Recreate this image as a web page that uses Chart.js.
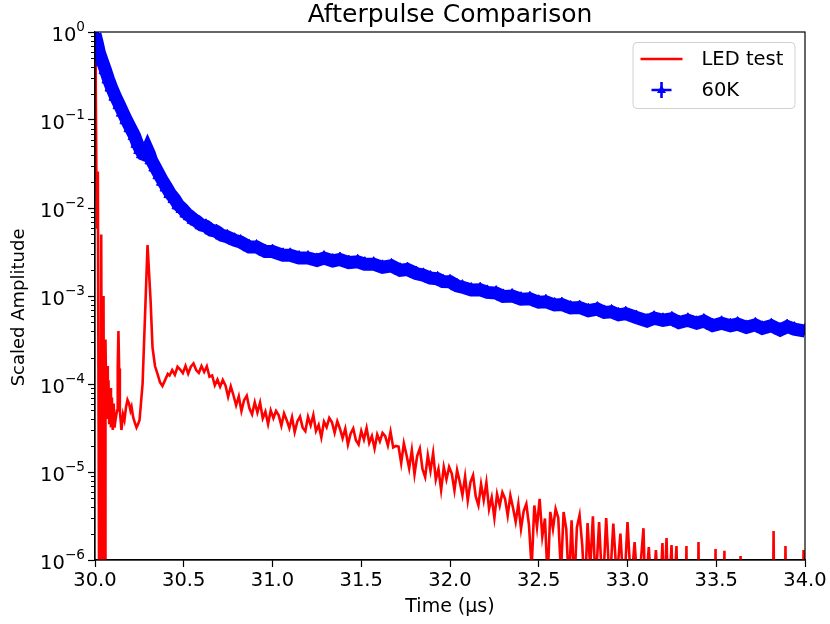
<!DOCTYPE html>
<html>
<head>
<meta charset="utf-8">
<script src="https://cdn.jsdelivr.net/npm/chart.js@4.4.1/dist/chart.umd.min.js"></script>
<style>
  html, body { margin: 0; background: #fff; }
  canvas { display: block; }
</style>
</head>
<body>
<canvas id="chart" width="830" height="624"></canvas>
<script>
'use strict';

// ===== data (time in µs, scaled amplitude) =====
const ledTrace = [
  [30.000, 0.95], [30.004, 0.25], [30.008, 0.02], [30.012, 0.006], [30.016, 0.026],
  [30.024, 1e-7], [30.028, 2e-4], [30.031, 1e-7], [30.035, 0.005], [30.041, 1e-7],
  [30.045, 4e-4], [30.048, 1.0e-3], [30.053, 1e-7], [30.056, 1e-4], [30.058, 1e-7],
  [30.059, 3.2e-4], [30.064, 5e-5], [30.068, 1.6e-4], [30.072, 4e-5], [30.076, 1.1e-4],
  [30.080, 3.5e-5], [30.085, 9e-5], [30.090, 3.2e-5], [30.095, 7e-5], [30.100, 3e-5],
  [30.105, 6e-5], [30.110, 3.2e-5], [30.116, 4e-5], [30.124, 5e-5], [30.128, 1.5e-4],
  [30.132, 4.0e-4], [30.136, 1.5e-4], [30.140, 5e-5], [30.149, 3.0e-5], [30.158, 4.5e-5],
  [30.166, 3.9e-5], [30.175, 5.5e-5], [30.183, 6.6e-5], [30.192, 6.0e-5], [30.200, 5.0e-5],
  [30.206, 5.5e-5], [30.215, 4.2e-5], [30.225, 3.6e-5], [30.234, 3.2e-5], [30.243, 3.5e-5],
  [30.251, 3.9e-5], [30.268, 1.0e-4], [30.285, 9e-4], [30.296, 3.8e-3], [30.313, 9e-4],
  [30.324, 2.6e-4], [30.338, 1.6e-4], [30.352, 1.3e-4], [30.366, 1.05e-4], [30.380, 9.5e-5],
  [30.394, 1.1e-4], [30.410, 1.3e-4], [30.420, 1.25e-4],
  [30.435, 1.44e-4], [30.450, 1.27e-4], [30.465, 1.57e-4], [30.480, 1.46e-4], [30.495, 1.33e-4],
  [30.510, 1.61e-4], [30.525, 1.31e-4], [30.540, 1.57e-4], [30.555, 1.71e-4], [30.570, 1.44e-4],
  [30.585, 1.34e-4], [30.600, 1.60e-4], [30.615, 1.37e-4], [30.630, 1.59e-4], [30.645, 1.21e-4],
  [30.660, 1.25e-4], [30.675, 9.66e-5], [30.690, 1.12e-4], [30.705, 9.33e-5], [30.720, 1.11e-4],
  [30.735, 9.66e-5], [30.750, 7.16e-5], [30.765, 9.42e-5], [30.780, 7.45e-5], [30.795, 5.73e-5],
  [30.810, 7.24e-5], [30.825, 4.94e-5], [30.840, 6.55e-5], [30.855, 7.35e-5], [30.870, 5.30e-5],
  [30.885, 4.53e-5], [30.900, 6.19e-5], [30.915, 4.74e-5], [30.930, 6.14e-5], [30.945, 4.08e-5],
  [30.960, 4.85e-5], [30.975, 3.51e-5], [30.990, 5.01e-5], [31.005, 4.10e-5], [31.020, 4.94e-5],
  [31.035, 4.40e-5], [31.050, 3.36e-5], [31.065, 4.63e-5], [31.080, 3.88e-5], [31.095, 3.16e-5],
  [31.110, 4.19e-5], [31.125, 2.84e-5], [31.140, 3.75e-5], [31.155, 4.26e-5], [31.170, 3.19e-5],
  [31.185, 2.91e-5], [31.200, 4.24e-5], [31.215, 3.40e-5], [31.230, 4.45e-5], [31.245, 2.92e-5],
  [31.260, 3.42e-5], [31.275, 2.48e-5], [31.290, 3.73e-5], [31.305, 3.23e-5], [31.320, 4.11e-5],
  [31.335, 3.68e-5], [31.350, 2.79e-5], [31.365, 3.77e-5], [31.380, 3.10e-5], [31.395, 2.42e-5],
  [31.410, 3.10e-5], [31.425, 2.05e-5], [31.440, 2.72e-5], [31.455, 3.12e-5], [31.470, 2.30e-5],
  [31.485, 2.05e-5], [31.500, 2.92e-5], [31.515, 2.34e-5], [31.530, 3.16e-5], [31.545, 2.14e-5],
  [31.560, 2.56e-5], [31.575, 1.85e-5], [31.590, 2.67e-5], [31.605, 2.23e-5], [31.620, 2.78e-5],
  [31.635, 2.56e-5], [31.650, 2.0e-5], [31.665, 2.86e-5], [31.680, 1.90e-5], [31.695, 1.98e-5],
  [31.710, 1.95e-5], [31.725, 1.26e-5], [31.740, 2.12e-5], [31.755, 1.56e-5], [31.770, 1.10e-5],
  [31.785, 1.77e-5], [31.800, 9.42e-6], [31.815, 1.52e-5], [31.830, 1.85e-5], [31.845, 1.08e-5],
  [31.860, 8.75e-6], [31.875, 1.55e-5], [31.890, 1.03e-5], [31.905, 1.64e-5], [31.920, 8.20e-6],
  [31.935, 1.08e-5], [31.950, 6.24e-6], [31.965, 1.14e-5], [31.980, 8.24e-6], [31.995, 1.14e-5],
  [32.010, 9.62e-6], [32.025, 6.19e-6], [32.040, 1.05e-5], [32.055, 7.76e-6], [32.070, 5.48e-6],
  [32.085, 8.87e-6], [32.100, 4.75e-6], [32.115, 7.64e-6], [32.130, 9.18e-6], [32.145, 5.27e-6],
  [32.160, 4.19e-6], [32.175, 7.26e-6], [32.190, 4.80e-6], [32.205, 7.59e-6], [32.220, 3.80e-6],
  [32.235, 5.13e-6], [32.250, 3.01e-6], [32.265, 5.61e-6], [32.280, 4.15e-6], [32.295, 5.86e-6],
  [32.310, 4.98e-6], [32.325, 3.21e-6], [32.340, 5.41e-6], [32.355, 3.93e-6], [32.370, 2.72e-6],
  [32.385, 4.32e-6], [32.400, 2.26e-6], [32.415, 3.60e-6], [32.430, 4.33e-6], [32.445, 2.49e-6],
  [32.460, 0.8e-6], [32.475, 4.16e-6], [32.490, 2.36e-6], [32.505, 4.95e-6], [32.520, 1.85e-6],
  [32.535, 2.96e-6], [32.550, 0.6e-6], [32.565, 3.52e-6], [32.580, 2.26e-6], [32.595, 3.81e-6],
  [32.610, 3.01e-6], [32.625, 0.7e-6], [32.640, 3.51e-6], [32.655, 2.25e-6], [32.670, 0.5e-6],
  [32.685, 2.82e-6], [32.700, 0.5e-6], [32.715, 2.34e-6], [32.730, 3.24e-6], [32.745, 1.48e-6],
  [32.760, 0.4e-6], [32.775, 2.63e-6], [32.790, 0.8e-6], [32.805, 3.13e-6], [32.820, 0.5e-6],
  [32.84, 2.7e-6], [32.86, 0.4e-6], [32.88, 3.0e-6], [32.90, 0.5e-6], [32.92, 2.6e-6],
  [32.94, 0.6e-6], [32.96, 2.0e-6], [32.98, 0.4e-6], [33.00, 2.7e-6], [33.02, 0.5e-6],
  [33.04, 1.6e-6], [33.06, 0.4e-6], [33.09, 2.3e-6], [33.10, 0.4e-6], [33.12, 1.4e-6],
  [33.14, 0.3e-6], [33.16, 1.3e-6], [33.18, 0.3e-6], [33.197, 1.56e-6], [33.205, 0.3e-6],
  [33.220, 1.78e-6], [33.230, 0.3e-6], [33.248, 1.48e-6], [33.258, 0.3e-6], [33.276, 1.44e-6],
  [33.285, 0.2e-6], [33.328, 0.2e-6], [33.332, 1.44e-6], [33.336, 0.2e-6], [33.396, 0.2e-6],
  [33.400, 1.6e-6], [33.404, 0.2e-6], [33.492, 0.2e-6], [33.496, 1.33e-6], [33.500, 0.2e-6],
  [33.542, 0.2e-6], [33.546, 1.27e-6], [33.550, 0.2e-6], [33.633, 0.2e-6], [33.637, 1.11e-6],
  [33.641, 0.2e-6], [33.819, 0.2e-6], [33.823, 2.14e-6], [33.827, 0.2e-6], [33.886, 0.2e-6],
  [33.890, 1.44e-6], [33.894, 0.2e-6], [33.988, 0.2e-6], [33.992, 1.3e-6], [34.000, 0.2e-6],
];

const coldTrace = [
  [30.000, 0.95], [30.012, 0.76], [30.025, 0.58], [30.042, 0.46], [30.059, 0.37],
  [30.076, 0.29], [30.093, 0.235], [30.115, 0.185], [30.138, 0.148], [30.157, 0.122],
  [30.177, 0.100], [30.200, 0.081], [30.223, 0.066], [30.239, 0.054], [30.255, 0.046],
  [30.270, 0.041], [30.283, 0.040], [30.296, 0.046], [30.307, 0.041], [30.318, 0.035],
  [30.340, 0.029], [30.363, 0.0237], [30.383, 0.0200], [30.403, 0.0172], [30.425, 0.0145],
  [30.448, 0.0127], [30.470, 0.0108], [30.493, 0.0098], [30.515, 0.0087], [30.535, 0.0081],
  [30.555, 0.0074], [30.572, 0.0071], [30.600, 0.0064], [30.625, 0.0062], [30.655, 0.0056],
  [30.685, 0.0054], [30.715, 0.0049], [30.745, 0.0047], [30.786, 0.0043], [30.820, 0.0041],
  [30.870, 0.0036], [30.910, 0.0036], [30.960, 0.0032], [31.000, 0.0032], [31.060, 0.0029],
  [31.100, 0.0029], [31.150, 0.0027], [31.200, 0.0027], [31.250, 0.00254], [31.290, 0.0027],
  [31.340, 0.0025], [31.380, 0.0026], [31.430, 0.0024], [31.480, 0.00245], [31.520, 0.0023],
  [31.570, 0.0023], [31.620, 0.00212], [31.670, 0.0022], [31.720, 0.00196], [31.760, 0.0020],
  [31.810, 0.0018], [31.850, 0.00172], [31.890, 0.0016], [31.930, 0.00157], [31.960, 0.00146],
  [32.000, 0.00145], [32.040, 0.0013], [32.070, 0.00126], [32.120, 0.00117], [32.170, 0.00118],
  [32.210, 0.0011], [32.260, 0.00108], [32.300, 0.00099], [32.350, 0.0010], [32.400, 0.00092],
  [32.450, 0.00093], [32.500, 0.00085], [32.540, 0.00086], [32.590, 0.00079], [32.630, 0.0008],
  [32.680, 0.00073], [32.730, 0.00074], [32.780, 0.00068], [32.830, 0.00071], [32.870, 0.00065],
  [32.910, 0.00066], [32.950, 0.00061], [32.990, 0.00063], [33.050, 0.00057], [33.110, 0.00052],
  [33.150, 0.00056], [33.200, 0.00053], [33.250, 0.00055], [33.290, 0.0005], [33.340, 0.00053],
  [33.390, 0.00049], [33.430, 0.00052], [33.480, 0.00046], [33.530, 0.00049], [33.580, 0.00046],
  [33.620, 0.00048], [33.670, 0.00044], [33.720, 0.00047], [33.760, 0.00043], [33.810, 0.00046],
  [33.860, 0.00041], [33.900, 0.00045], [33.940, 0.00042], [34.000, 0.00040],
];

const xTicks = [30.0, 30.5, 31.0, 31.5, 32.0, 32.5, 33.0, 33.5, 34.0];
const xTickLabels = ['30.0', '30.5', '31.0', '31.5', '32.0', '32.5', '33.0', '33.5', '34.0'];
const yTicks = [1e-6, 1e-5, 1e-4, 1e-3, 1e-2, 1e-1, 1];
const yTickExponents = ['−6', '−5', '−4', '−3', '−2', '−1', '0'];
const minorSteps = [2, 3, 4, 5, 6, 7, 8, 9];

const RED  = '#ff0000';
const BLUE = '#0000ff';
const FONT = '"DejaVu Sans", sans-serif';
const TICK_SIZE = 19.5;

// ===== plugins =====
// top/right spines like matplotlib
const framePlugin = {
  id: 'frame',
  afterDraw(chart) {
    const { ctx, chartArea: a } = chart;
    ctx.save();
    ctx.strokeStyle = '#000';
    ctx.lineWidth = 1.2;
    ctx.strokeRect(a.left, a.top, a.right - a.left, a.bottom - a.top);
    ctx.restore();
  },
};

// short minor ticks + "10^n" labels on the log axis
const logAxisPlugin = {
  id: 'logAxis',
  afterDraw(chart) {
    const { ctx, chartArea: a } = chart;
    const ys = chart.scales.y;
    ctx.save();
    ctx.strokeStyle = '#000';
    ctx.lineWidth = 1;
    ctx.beginPath();
    yTicks.slice(0, -1).forEach(d => {
      minorSteps.forEach(m => {
        const py = Math.round(ys.getPixelForValue(d * m)) + 0.5;
        ctx.moveTo(a.left - 4, py);
        ctx.lineTo(a.left, py);
      });
    });
    ctx.stroke();

    ctx.fillStyle = '#000';
    ctx.textBaseline = 'alphabetic';
    ctx.textAlign = 'left';
    const supFont = (TICK_SIZE * 0.7) + 'px ' + FONT;
    const baseFont = TICK_SIZE + 'px ' + FONT;
    yTicks.forEach((v, i) => {
      const py = ys.getPixelForValue(v);
      ctx.font = supFont;
      const supW = ctx.measureText(yTickExponents[i]).width;
      ctx.font = baseFont;
      const baseW = ctx.measureText('10').width;
      const right = a.left - 10;
      const x0 = right - supW - baseW;
      ctx.fillText('10', x0, py + 9);
      ctx.font = supFont;
      ctx.fillText(yTickExponents[i], x0 + baseW, py - 1);
    });
    ctx.restore();
  },
};

// legend box inside the plot, top right
const boxLegend = {
  id: 'boxLegend',
  afterDraw(chart) {
    const { ctx, chartArea: a } = chart;
    const w = 162, h = 66;
    const x = a.right - 10.5 - w, y = a.top + 10;
    ctx.save();
    ctx.beginPath();
    ctx.roundRect(x + 0.5, y + 0.5, w, h, 4);
    ctx.fillStyle = 'rgba(255,255,255,0.8)';
    ctx.fill();
    ctx.strokeStyle = '#d0d0d0';
    ctx.lineWidth = 1;
    ctx.stroke();

    const sx = x + 29;
    const row1 = y + 17, row2 = y + 48;
    // red line
    ctx.strokeStyle = RED;
    ctx.lineWidth = 2.6;
    ctx.beginPath();
    ctx.moveTo(sx - 21, row1);
    ctx.lineTo(sx + 21, row1);
    ctx.stroke();
    // blue error bar + triangle
    ctx.strokeStyle = BLUE;
    ctx.fillStyle = BLUE;
    ctx.lineWidth = 2.6;
    ctx.beginPath();
    ctx.moveTo(sx, row2 - 8);
    ctx.lineTo(sx, row2 + 8);
    ctx.moveTo(sx - 10, row2);
    ctx.lineTo(sx + 10, row2);
    ctx.stroke();
    ctx.beginPath();
    ctx.moveTo(sx, row2 - 5);
    ctx.lineTo(sx + 4.5, row2 + 3);
    ctx.lineTo(sx - 4.5, row2 + 3);
    ctx.closePath();
    ctx.fill();

    ctx.fillStyle = '#000';
    ctx.font = '19.5px ' + FONT;
    ctx.textBaseline = 'middle';
    ctx.textAlign = 'left';
    ctx.fillText(chart.data.datasets[0].label, x + 69, row1 + 1);
    ctx.fillText(chart.data.datasets[1].label, x + 69, row2 + 1);
    ctx.restore();
  },
};

// ===== chart =====
const tickFont = { family: FONT, size: TICK_SIZE };

new Chart(document.getElementById('chart'), {
  type: 'line',
  data: {
    datasets: [
      {
        label: 'LED test',
        data: ledTrace.map(([x, y]) => ({ x, y })),
        borderColor: RED,
        borderWidth: 2.6,
        pointRadius: 0,
        tension: 0,
        clip: 0,
        order: 1,
      },
      {
        label: '60K',
        data: coldTrace.map(([x, y]) => ({ x, y })),
        borderColor: BLUE,
        borderWidth: 13,
        pointStyle: 'triangle',
        pointRadius: 7.5,
        pointBackgroundColor: BLUE,
        pointBorderColor: BLUE,
        pointBorderWidth: 1,
        tension: 0,
        clip: 0,
        order: 0,
      },
    ],
  },
  options: {
    responsive: false,
    animation: false,
    devicePixelRatio: 1,
    layout: { padding: { left: 0, right: 25, top: 0, bottom: 0 } },
    plugins: {
      legend: { display: false },
      tooltip: { enabled: false },
      title: {
        display: true,
        text: 'Afterpulse Comparison',
        fullSize: false,
        color: '#000',
        font: { family: FONT, size: 25, weight: 'normal', lineHeight: 1.2 },
        padding: { top: 0, bottom: 2 },
      },
    },
    scales: {
      x: {
        type: 'linear',
        min: 30,
        max: 34,
        afterBuildTicks: s => { s.ticks = xTicks.map(v => ({ value: v })); },
        afterFit: s => { s.height = 64; },
        ticks: {
          callback: (v, i) => xTickLabels[i],
          color: '#000',
          font: tickFont,
          padding: 2,
          maxRotation: 0,
          autoSkip: false,
        },
        grid: { drawOnChartArea: false, drawTicks: true, tickLength: 7, tickColor: '#000', tickWidth: 1.2 },
        border: { display: true, color: '#000', width: 1.2 },
        title: {
          display: true,
          text: 'Time (μs)',
          color: '#000',
          font: { family: FONT, size: 19 },
          padding: { top: 0, bottom: 6 },
        },
      },
      y: {
        type: 'logarithmic',
        min: 1e-6,
        max: 1,
        afterBuildTicks: s => { s.ticks = yTicks.map(v => ({ value: v })); },
        afterFit: s => { s.width = 95; },
        ticks: { display: false },
        grid: { drawOnChartArea: false, drawTicks: true, tickLength: 7, tickColor: '#000', tickWidth: 1.2 },
        border: { display: true, color: '#000', width: 1.2 },
        title: {
          display: true,
          text: 'Scaled Amplitude\u00a0\u00a0\u00a0\u00a0',
          color: '#000',
          font: { family: FONT, size: 18 },
          padding: { top: 9, bottom: 0 },
        },
      },
    },
  },
  plugins: [framePlugin, logAxisPlugin, boxLegend],
});
</script>
</body>
</html>
